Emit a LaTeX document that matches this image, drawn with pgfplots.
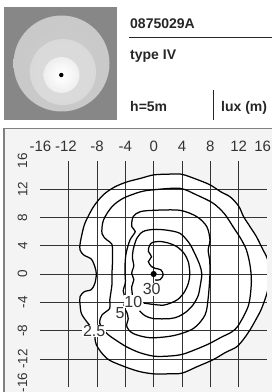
\documentclass[border=0pt]{standalone}
\usepackage{pgfplots}
\pgfplotsset{compat=1.18}
\usepackage{fontspec}
\setmainfont{Liberation Sans}
\definecolor{panelbg}{HTML}{F4F4F4}
\definecolor{thumbbg}{HTML}{878787}
\pgfdeclareradialshading{discouter}{\pgfpoint{0bp}{0bp}}{%
 color(0bp)=(white!80!black); color(36bp)=(white!78!black); color(42bp)=(white!74!black);
 color(46bp)=(white!66!black); color(50bp)=(thumbbg)}
\pgfdeclareradialshading{discmiddle}{\pgfpoint{0bp}{0bp}}{%
 color(0bp)=(white!86!black); color(32bp)=(white!85!black); color(44bp)=(white!82!black); color(50bp)=(white!79!black)}
\pgfdeclareradialshading{discinner}{\pgfpoint{0bp}{0bp}}{%
 color(0bp)=(white); color(10bp)=(white!98!black); color(26bp)=(white!93!black);
 color(40bp)=(white!89!black); color(50bp)=(white!86!black)}
\pgfplotstableread{
x y
-8.3 -8.1
-9.4 -6.8
-10.2 -5.6
-10.4 -4.3
-10.4 -3.2
-9.8 -2.5
-8.8 -2.2
-8.3 -1.3
-8.1 0
-8.3 1.0
-8.8 2.1
-9.9 2.7
-10.4 3.4
-10.4 4.2
-10.2 5.3
-9.7 7.2
-8.5 9.5
-7.1 11.2
-5.5 12.3
-3.8 13.0
-1.9 13.5
0 14.0
2 14.1
3.9 14.1
6 13.4
7.95 12.6
9.5 11.6
10.8 10.9
12 9.6
12.7 8.1
13.6 6.7
14.5 5.3
15.3 3.7
16.1 2.0
16.2 0
16.1 -2.3
15.25 -4.85
14.4 -6.5
13.6 -7.9
12.7 -9.2
11.7 -10.3
10.1 -11.1
8.4 -12.1
6.1 -13.1
4 -14.0
2 -14.1
0 -14.1
-1.9 -13.8
-3.8 -13.2
-6.2 -12.2
-7.3 -11.2
-8.1 -10.0
-8.3 -9.0
-8.3 -8.1
}\outer
\pgfplotsset{isoaxis/.style={
 at={(40.4pt,4.7pt)}, anchor=south west, scale only axis,
 width=226.56pt, height=226.56pt,
 xmin=-16, xmax=16, ymin=-16, ymax=16}}
\begin{document}
\begin{tikzpicture}
\path[use as bounding box] (0pt,0pt) rectangle (272pt,392pt);
% thumbnail
\fill[thumbbg] (4pt,272pt) rectangle (117.3pt,384.7pt);
\begin{scope}
\clip (4pt,272pt) rectangle (117.3pt,384.7pt);
\shade[shading=discouter] (61.5pt,328.5pt) circle (48pt);
\shade[shading=discmiddle] (63pt,320pt) circle (33pt);
\shade[shading=discinner] (61.5pt,317pt) circle (18pt);
\end{scope}
\fill[black] (61.3pt,317pt) circle (2.2pt);
% header
\node[anchor=base west, inner sep=0, font=\bfseries\fontsize{14}{14}\selectfont, text=black!85] at (130pt,363.7pt) {0875029A};
\draw[black!85, line width=1.1pt] (129.3pt,354.7pt) -- (272pt,354.7pt);
\node[anchor=base west, inner sep=0, font=\bfseries\fontsize{14}{14}\selectfont, text=black!85] at (130pt,332pt) {type IV};
\node[anchor=base west, inner sep=0, font=\bfseries\fontsize{14}{14}\selectfont, text=black!85] at (130pt,280.3pt) {h=5m};
\draw[black!85, line width=0.9pt] (213.3pt,302pt) -- (213.3pt,272pt);
\node[anchor=base west, inner sep=0, font=\bfseries\fontsize{14}{14}\selectfont, text=black!85] at (221pt,280.3pt) {lux (m)};
% panel
\draw[black!50, line width=1.2pt, fill=panelbg] (4pt,-5pt) rectangle (280pt,263.5pt);
% white area inside the outer isoline (below the grid)
\begin{axis}[isoaxis, hide axis]
\addplot[fill=white, draw=none, smooth, tension=0.5] table {\outer};
\end{axis}
\begin{axis}[
 isoaxis,
 axis line style={draw=none},
 major tick length=0pt,
 grid=major, grid style={black!80, line width=0.9pt},
 xtick={-12,-8,-4,0,4,8,12}, xticklabels={,-8,-4,0,4,8,12},
 ytick={-12,-8,-4,0,4,8,12}, yticklabels={-12,-8,-4,0,4,8,12},
 extra x ticks={-16,-12.4,15.4}, extra x tick labels={-16,-12,16},
 extra y ticks={16,-15.3}, extra y tick labels={16,-16},
 extra tick style={grid=none},
 xticklabel pos=right,
 xticklabel style={font=\fontsize{15}{15}\selectfont, text=black!80, yshift=5.7pt},
 yticklabel style={font=\fontsize{13.5}{13.5}\selectfont, text=black!80, xshift=-9.5pt, rotate=90, anchor=south},
]
% outer contour line (2.5)
\addplot[black, line width=1.25pt, smooth, tension=0.5] table {\outer};
% contour E
\addplot[black, line width=1.25pt, smooth, tension=0.5] coordinates {
(-5.9,0) (-5.8,2.4) (-5.9,4.2) (-6.6,4.8) (-7.3,5.7) (-7.1,7.6) (-5.9,9.5) (-4.3,10.7) (-1.9,11.6) (0,11.9) (3.7,12.1) (6,11.2) (8.4,10.0) (10,8.5) (11.2,6.7) (12.3,5.0) (13.1,3.4) (13.6,1.3) (13.8,-1.1) (13.4,-4.4) (12.0,-7.2) (11,-8.2) (9.6,-8.9) (7.5,-10.0) (4.2,-11.3) (2,-11.6) (0,-11.6) (-2,-11.1) (-3.8,-10.3) (-5.4,-9.3) (-6.6,-8.4) (-7.6,-7.0) (-7.3,-5.8) (-6.2,-4.85) (-6.2,-3.7) (-5.9,-1.55) (-5.9,0)
};
% contour D (5)
\addplot[black, line width=1.25pt, smooth, tension=0.5] coordinates {
(-4.05,0) (-4.0,-1.2) (-4.3,-2.4) (-4.0,-3.5) (-4.2,-4.6) (-3.8,-5.4) (-3.6,-6.3) (-3.8,-7.4) (-2.9,-8.4) (-0.5,-9.0) (2.8,-8.7) (5.6,-7.7) (7.25,-5.8) (7.7,-3.4) (7.95,0) (7.9,2) (7.7,3.4) (7.95,4.8) (7.5,6.7) (6.1,8.1) (3.7,9.0) (0,9.0) (-1.9,8.8) (-2.9,8.1) (-3.1,6.7) (-2.6,6.0) (-3.35,4.8) (-3.9,2.9) (-4.05,1.2) (-4.05,0)
};
% contour C (10)
\addplot[black, line width=1.25pt, smooth, tension=0.5] coordinates {
(-3.0,-3.0) (-3.1,-1.8) (-2.8,-0.8) (-3.1,0.1) (-2.8,1.2) (-3.0,2.2) (-2.9,3.4) (-2.4,5.0) (-1.5,6.0) (0,6.3) (1.8,6.2) (3.7,5.75) (5.0,4.4) (5.8,2.9) (6.5,1.3) (6.8,0) (6.6,-1.5) (6.3,-3.0) (5.6,-4.3) (4.65,-5.3) (3.5,-6.0) (2.3,-6.3) (0,-6.3) (-1.2,-5.9) (-2.0,-5.2)
};
% contour B + A (30)
\addplot[black, line width=1.25pt, smooth, tension=0.5] coordinates {
(-1.4,-4.1) (0,-4.3) (1.35,-4.4) (2.4,-4.1) (3.4,-3.6) (4.3,-2.6) (4.9,-1.3) (5.1,0) (4.9,1.7) (4.3,2.9) (3.3,3.85) (2.0,4.4) (0.8,4.6) (-0.2,4.45) (-0.6,4.0) (-0.75,3.2) (-0.3,2.45) (-0.75,1.75) (-0.3,1.05) (0.2,0.8) (1.0,0.6) (1.35,-0.1) (0.9,-0.8) (0.2,-0.85)
};
% luminaire position
\addplot[only marks, mark=*, mark size=2.8pt, black] coordinates {(0,0)};
% contour labels
\node[fill=white, inner sep=0.6pt, font=\fontsize{16}{16}\selectfont, text=black!80] at (axis cs:-8.4,-8.05) {2.5};
\node[fill=white, inner sep=0.6pt, font=\fontsize{16}{16}\selectfont, text=black!80] at (axis cs:-4.76,-5.46) {5};
\node[fill=white, inner sep=0.6pt, font=\fontsize{16}{16}\selectfont, text=black!80] at (axis cs:-2.88,-3.9) {10};
\node[fill=white, inner sep=0.6pt, font=\fontsize{16}{16}\selectfont, text=black!80] at (axis cs:-0.28,-2.16) {30};
\end{axis}
\end{tikzpicture}
\end{document}
